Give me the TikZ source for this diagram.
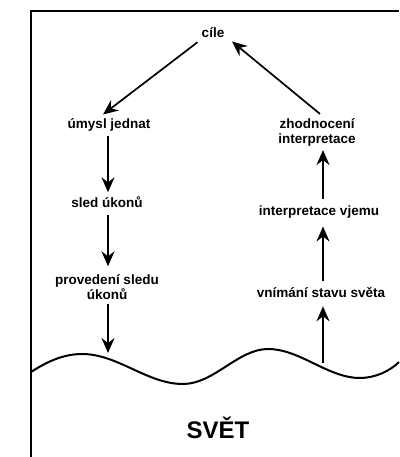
\documentclass[tikz,border=0pt]{standalone}
\usepackage{fontspec}
\setmainfont{Liberation Sans}
\usetikzlibrary{arrows.meta}
\begin{document}
\begin{tikzpicture}[x=1pt,y=-1pt,
  lbl/.style={font=\bfseries\fontsize{13.5}{15}\selectfont, inner sep=4pt, align=center},
  arr/.style={line width=1.7pt, -{Stealth[length=15pt,width=13pt,inset=5pt]}},
  frame/.style={line width=2.8pt},
  wave/.style={line width=2pt}]
\useasboundingbox (0,0) rectangle (399,457);
\draw[frame] (31,457) -- (31,11) -- (399,11);
\draw[wave] (31,372) .. controls (45,363) and (62,354) .. (82,354)
  .. controls (118,354) and (147,384) .. (183,384)
  .. controls (214,384) and (238,349) .. (268,349)
  .. controls (300,349) and (328,378) .. (360,378)
  .. controls (375,378) and (390,371) .. (399,362);
\node[lbl] (cile) at (213,33) {cíle};
\node[lbl] (umysl) at (109,125) {úmysl jednat};
\node[lbl] (sled) at (107,202) {sled úkonů};
\node[lbl] (proved) at (107,287) {provedení sledu\\úkonů};
\node[lbl] (zhod) at (317,132) {zhodnocení\\interpretace};
\node[lbl] (interp) at (319,212) {interpretace vjemu};
\node[lbl] (vnim) at (321,293) {vnímání stavu světa};
\node[font=\bfseries\fontsize{24}{28}\selectfont] (svet) at (218,428) {SVĚT};
\coordinate (w1) at (108,353);
\coordinate (w2) at (323,363);
\draw[arr] (cile.south west) -- ([xshift=-6pt]umysl.north);
\draw[arr] (umysl.south -| w1) -- (sled.north -| w1);
\draw[arr, shorten <=3pt, shorten >=4pt] (sled.south -| w1) -- (proved.north -| w1);
\draw[arr] (proved.south -| w1) -- (w1);
\draw[arr, shorten >=4pt] (w2) -- (vnim.south -| w2);
\draw[arr, shorten <=3pt, shorten >=4pt] (vnim.north -| w2) -- (interp.south -| w2);
\draw[arr, shorten <=3pt] (interp.north -| w2) -- (zhod.south -| w2);
\draw[arr, shorten >=2pt] ([xshift=3pt]zhod.north) -- ([shift={(2pt,2pt)}]cile.south east);
\end{tikzpicture}
\end{document}
